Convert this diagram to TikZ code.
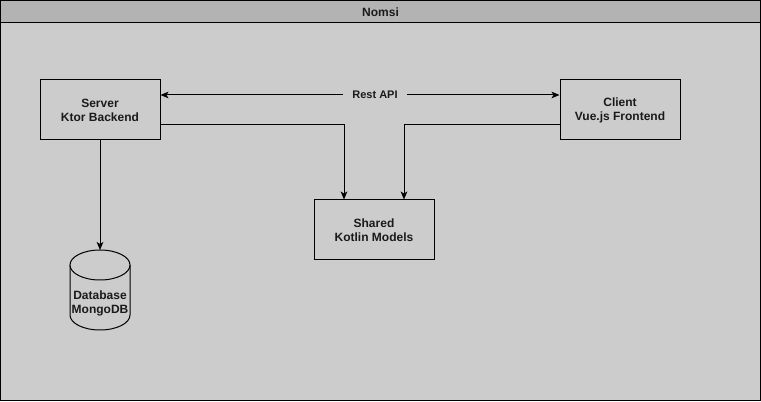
\documentclass[tikz,border=0pt]{standalone}
\usepackage{fontspec}
\setmainfont{Liberation Sans}
\usetikzlibrary{arrows.meta,shapes.geometric}
\definecolor{bodygray}{HTML}{CCCCCC}
\definecolor{headgray}{HTML}{B3B3B3}
\definecolor{txt}{HTML}{1A1A1A}
\begin{document}
\begin{tikzpicture}[x=0.75pt,y=-0.75pt,
  box/.style={draw=black,line width=0.75pt,minimum width=90pt,minimum height=45pt,inner sep=0pt,align=center,font=\fontsize{9}{10.5}\selectfont\bfseries,text=txt},
  conn/.style={draw=black,line width=0.75pt,-{Stealth[length=6pt,width=5pt,inset=1.5pt]}},
  lbl/.style={fill=bodygray,inner xsep=7pt,inner ysep=2pt,font=\fontsize{8.25}{10}\selectfont\bfseries,text=txt}]
\useasboundingbox (0,0) rectangle (761,402);
\fill[bodygray] (0.5,0.5) rectangle (760.5,400.5);
\fill[headgray] (0.5,0.5) rectangle (760.5,23);
\draw[line width=0.75pt] (0.5,0.5) rectangle (760.5,400.5);
\draw[line width=0.75pt] (0.5,23) -- (760.5,23);
\node[font=\fontsize{9}{10.5}\selectfont\bfseries,text=txt] (title) at (380.5,12) {Nomsi};
\node[box] (server) at (100,110) {Server\\Ktor Backend};
\node[box] (client) at (620,110) {Client\\Vue.js Frontend};
\node[box] (shared) at (374,230) {Shared\\Kotlin Models};
% cylinder
\coordinate (dbtop) at (100,250);
\draw[line width=0.75pt,fill=bodygray] (70,265) -- (70,315) arc[start angle=180,end angle=0,x radius=30,y radius=15] -- (130,265);
\draw[line width=0.75pt,fill=bodygray] (100,265) ellipse[x radius=30,y radius=15];
\node[font=\fontsize{9}{10.5}\selectfont\bfseries,text=txt,align=center] (db) at (100,303) {Database\\MongoDB};
% connectors
\draw[conn,{Stealth[length=6pt,width=5pt,inset=1.5pt]}-{Stealth[length=6pt,width=5pt,inset=1.5pt]}] (server.east |- 0,95) -- (client.west |- 0,95);
\node[lbl] (rest) at (375,95) {Rest API};
\draw[conn] (server.east |- 0,125) -| ([xshift=-30*0.75pt]shared.north);
\draw[conn] (client.west |- 0,125) -| ([xshift=30*0.75pt]shared.north);
\draw[conn] (server.south) -- (dbtop);
\end{tikzpicture}
\end{document}
